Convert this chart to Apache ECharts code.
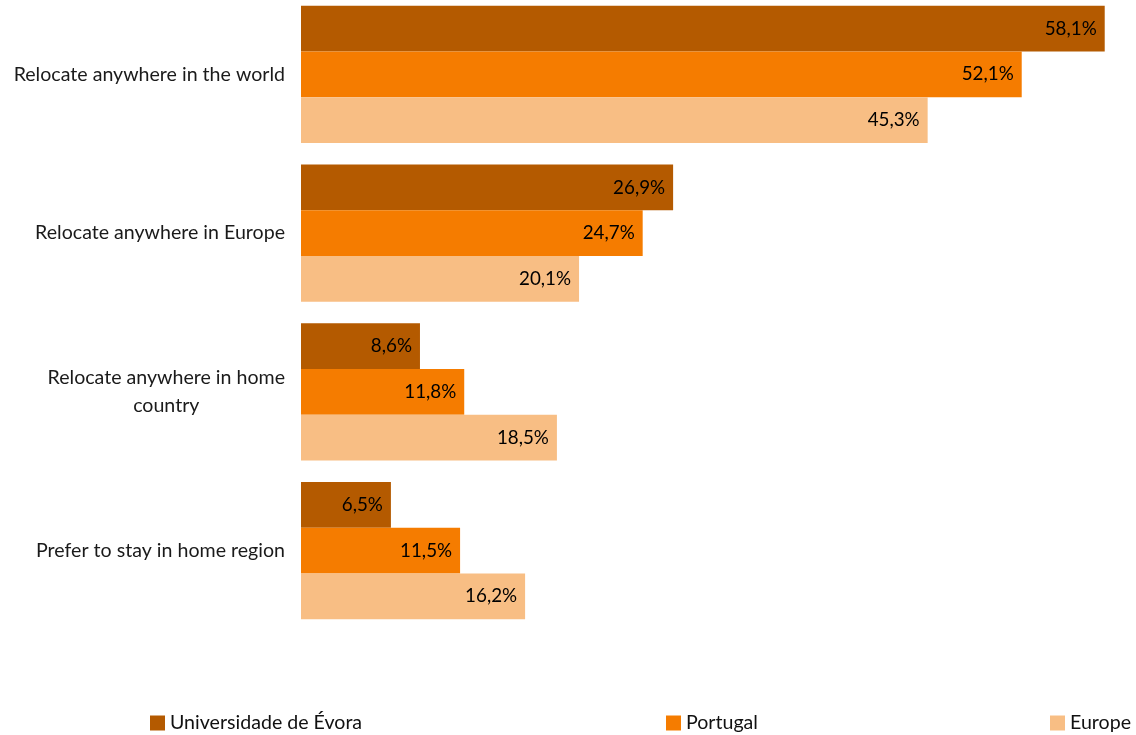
<!DOCTYPE html>
<html>
<head>
<meta charset="utf-8">
<script src="https://cdn.jsdelivr.net/npm/echarts@6/dist/echarts.min.js"></script>
<style>
  html, body { margin: 0; padding: 0; background: #fff; }
  #chart { width: 1136px; height: 735px; }
</style>
</head>
<body>
<div id="chart"></div>
<script>
// Willingness to relocate, share of respondents (%)
const categories = [
  'Relocate anywhere in the world',
  'Relocate anywhere in Europe',
  'Relocate anywhere in home\ncountry',
  'Prefer to stay in home region'
];
const seriesNames = ['Universidade de Évora', 'Portugal', 'Europe'];
const evora = [58.1, 26.9, 8.6, 6.5];
const portugal = [52.1, 24.7, 11.8, 11.5];
const europe = [45.3, 20.1, 18.5, 16.2];
const colors = ['#B45A00', '#F57C00', '#F8BE84'];

const FONT = 'Lato';
const TEXT_SIZE = 19.6;
const fmtPct = v => v.toFixed(1).replace('.', ',') + '%';

const makeSeries = (name, data, color) => ({
  name: name,
  type: 'bar',
  data: data,
  barGap: '0%',
  barCategoryGap: '13.7%',
  itemStyle: { color: color },
  label: {
    show: true,
    position: 'insideRight',
    distance: 8,
    color: '#000',
    fontFamily: FONT,
    fontSize: 18.8,
    formatter: p => fmtPct(p.value)
  }
});

const legendAt = (name, left) => ({
  data: [name],
  left: left,
  top: 713,
  padding: 0,
  itemWidth: 15,
  itemHeight: 15,
  itemGap: 0,
  icon: 'rect',
  selectedMode: false,
  textStyle: { fontFamily: FONT, fontSize: TEXT_SIZE, color: '#111' }
});

const chart = echarts.init(document.getElementById('chart'));
chart.setOption({
  animation: false,
  backgroundColor: '#fff',
  grid: { left: 301, right: 5, top: -5, bottom: 105, containLabel: false, outerBoundsMode: 'none' },
  xAxis: {
    type: 'value',
    min: 0,
    max: 60,
    show: false
  },
  yAxis: {
    type: 'category',
    inverse: true,
    data: categories,
    axisLine: { show: false },
    axisTick: { show: false },
    axisLabel: {
      margin: 16,
      align: 'right',
      color: '#1a1a1a',
      fontFamily: FONT,
      fontSize: TEXT_SIZE,
      lineHeight: 28,
      formatter: v => v.split('\n').map(s => '{c|' + s + '}').join('\n'),
      rich: { c: { align: 'center', fontFamily: FONT, fontSize: TEXT_SIZE, lineHeight: 28, color: '#1a1a1a' } }
    }
  },
  legend: [
    legendAt(seriesNames[0], 150),
    legendAt(seriesNames[1], 666),
    legendAt(seriesNames[2], 1050)
  ],
  series: [
    makeSeries(seriesNames[0], evora, colors[0]),
    makeSeries(seriesNames[1], portugal, colors[1]),
    makeSeries(seriesNames[2], europe, colors[2])
  ]
});
</script>
</body>
</html>
